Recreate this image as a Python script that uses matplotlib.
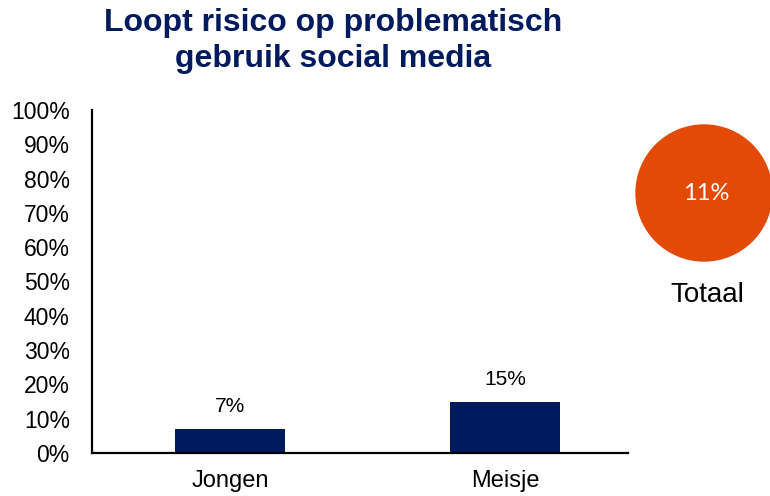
import matplotlib
matplotlib.use('Agg')
import matplotlib.pyplot as plt
from matplotlib.patches import Ellipse

plt.rcParams['font.family'] = ['Liberation Sans', 'DejaVu Sans']

# data
categories = ['Jongen', 'Meisje']
values = [7, 15]
total_label = 'Totaal'
total_value = 11
title = 'Loopt risico op problematisch\ngebruik social media'

navy = '#001a5e'
orange = '#e34a05'

fig = plt.figure(figsize=(7.7, 4.96), dpi=100)
ax = fig.add_axes([92/770, 1-453/496, (628-92)/770, (453-110)/496])

x = range(len(categories))
bars = ax.bar(x, values, width=0.4, color=navy)
for b, v in zip(bars, values):
    ax.annotate('%d%%' % v, (b.get_x() + b.get_width()/2, v), xytext=(0, 9),
                textcoords='offset points', ha='center', va='bottom', fontsize=15)

ax.set_xlim(-0.502, 1.447)
ax.set_ylim(0, 100)
ax.set_yticks(range(0, 101, 10))
ax.set_yticklabels(['%d%%' % t for t in range(0, 101, 10)], fontsize=16.5)
ax.set_xticks(list(x))
ax.set_xticklabels(categories, fontsize=17)
ax.tick_params(axis='y', length=0, pad=16)
ax.tick_params(axis='x', length=0, pad=12)
for s in ['top', 'right']:
    ax.spines[s].set_visible(False)
ax.spines['left'].set_linewidth(1.6)
ax.spines['bottom'].set_linewidth(1.6)

fig.text(333/770, 1-41/496, title, ha='center', va='center', fontsize=23,
         fontweight='bold', color=navy, linespacing=1.22)

# total circle
fig.add_artist(Ellipse((704/770, 1-193/496), 136/770, 136/496,
                       transform=fig.transFigure, color=orange, zorder=0))
fig.text(706/770, 1-193/496, '%d%%' % total_value, ha='center', va='center',
         fontsize=17, color='white', family=['Lato', 'DejaVu Sans'], zorder=5)
fig.text(707/770, 1-295/496, total_label, ha='center', va='center', fontsize=20)

plt.savefig('out.png', dpi=100)
